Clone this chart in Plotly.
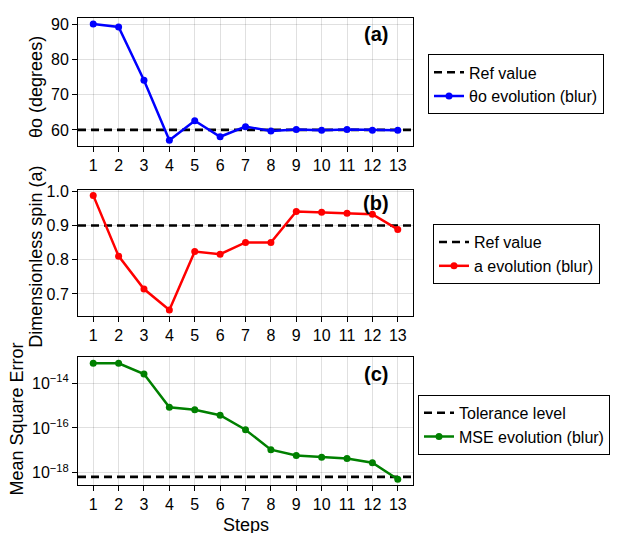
import plotly.graph_objects as go
import numpy as np

steps = list(range(1, 14))
theta_vals = [90.0, 89.17, 74.07, 57.04, 62.59, 58.06, 60.93, 59.72, 60.09, 59.91, 60.09, 59.91, 59.91]
theta_ref = 60.0
spin_vals = [0.988, 0.8105, 0.7143, 0.653, 0.824, 0.8162, 0.8505, 0.8505, 0.941, 0.939, 0.936, 0.933, 0.8886]
spin_ref = 0.9
mse_vals = [7.9e-14, 7.8e-14, 2.6e-14, 8.5e-16, 6.5e-16, 3.7e-16, 8.3e-17, 1.07e-17, 5.8e-18, 4.9e-18, 4.3e-18, 2.8e-18, 5.1e-19]
mse_tol = 6.5e-19

FONT = "Liberation Sans, Arial, Helvetica, sans-serif"
W, H = 618, 533

def px_x(x):
    return x / W

def px_y(y):
    return 1 - y / H

span = steps[-1] - steps[0]
xlo, xhi = steps[0] - 0.05 * span, steps[-1] + 0.05 * span

fig = go.Figure()

panels = [
    dict(vals=theta_vals, ref=theta_ref, color="blue", name="θo evolution (blur)", refname="Ref value", leg="legend", ax=""),
    dict(vals=spin_vals, ref=spin_ref, color="red", name="a evolution (blur)", refname="Ref value", leg="legend2", ax="2"),
    dict(vals=mse_vals, ref=mse_tol, color="green", name="MSE evolution (blur)", refname="Tolerance level", leg="legend3", ax="3"),
]

for p in panels:
    fig.add_trace(go.Scatter(
        x=[xlo, xhi], y=[p["ref"], p["ref"]], mode="lines",
        line=dict(color="black", width=2.6, dash="8px,5px"),
        name=p["refname"], legend=p["leg"], xaxis="x" + p["ax"], yaxis="y" + p["ax"],
        hoverinfo="skip"))
    fig.add_trace(go.Scatter(
        x=steps, y=p["vals"], mode="lines+markers",
        line=dict(color=p["color"], width=2.5),
        marker=dict(color=p["color"], size=7),
        name=p["name"], legend=p["leg"], xaxis="x" + p["ax"], yaxis="y" + p["ax"]))

xdom = [px_x(78), px_x(413)]
ydoms = [[px_y(141), px_y(11)], [px_y(313.3), px_y(185)], [px_y(484.3), px_y(355)]]

common_axis = dict(
    showline=True, linecolor="black", linewidth=1, mirror=True,
    ticks="outside", ticklen=5, tickcolor="black", tickwidth=1,
    showgrid=True, gridcolor="rgba(0,0,0,0.12)", gridwidth=1,
    tickfont=dict(family=FONT, size=16, color="black"), zeroline=False,
)

layout = dict(
    width=W, height=H, margin=dict(l=0, r=0, t=0, b=0),
    paper_bgcolor="white", plot_bgcolor="white",
    font=dict(family=FONT, size=16, color="black"),
)

for i, suffix in enumerate(["", "2", "3"]):
    layout["xaxis" + suffix] = dict(
        domain=xdom, range=[xlo, xhi], tickvals=steps, anchor="y" + suffix, **common_axis)

layout["yaxis"] = dict(domain=ydoms[0], range=[55.4, 91.75], tickvals=[60, 70, 80, 90], anchor="x", **common_axis)
layout["yaxis2"] = dict(domain=ydoms[1], range=[0.635, 1.005], tickvals=[0.7, 0.8, 0.9, 1.0], tickformat=".1f", anchor="x2", **common_axis)
layout["yaxis3"] = dict(domain=ydoms[2], type="log", range=[-18.55, -12.84], tickvals=[1e-18, 1e-16, 1e-14],
                        ticktext=["10<sup>−18</sup>", "10<sup>−16</sup>", "10<sup>−14</sup>"], anchor="x3", **common_axis)

leg_common = dict(bgcolor="white", bordercolor="black", borderwidth=1,
                  font=dict(family=FONT, size=16, color="black"),
                  xanchor="left", yanchor="top", tracegroupgap=0)
layout["legend"] = dict(x=px_x(428), y=px_y(48), **leg_common)
layout["legend2"] = dict(x=px_x(433), y=px_y(220), **leg_common)
layout["legend3"] = dict(x=px_x(418), y=px_y(393), **leg_common)

fig.update_layout(**layout)

annots = [
    dict(text="θo (degrees)", x=px_x(36), y=px_y(81), textangle=-90, size=18),
    dict(text="Dimensionless spin (a)", x=px_x(36), y=px_y(253), textangle=-90, size=18),
    dict(text="Mean Square Error", x=px_x(17), y=px_y(418), textangle=-90, size=18),
    dict(text="Steps", x=px_x(245.5), y=px_y(525), textangle=0, size=18),
    dict(text="<b>(a)</b>", x=px_x(376), y=px_y(27), textangle=0, size=20),
    dict(text="<b>(b)</b>", x=px_x(376), y=px_y(199), textangle=0, size=20),
    dict(text="<b>(c)</b>", x=px_x(376), y=px_y(372), textangle=0, size=20),
]
for a in annots:
    fig.add_annotation(text=a["text"], x=a["x"], y=a["y"], xref="paper", yref="paper",
                       xanchor="center", yanchor="middle", textangle=a["textangle"],
                       showarrow=False, font=dict(family=FONT, size=a["size"], color="black"))

fig.write_html("out.html")
